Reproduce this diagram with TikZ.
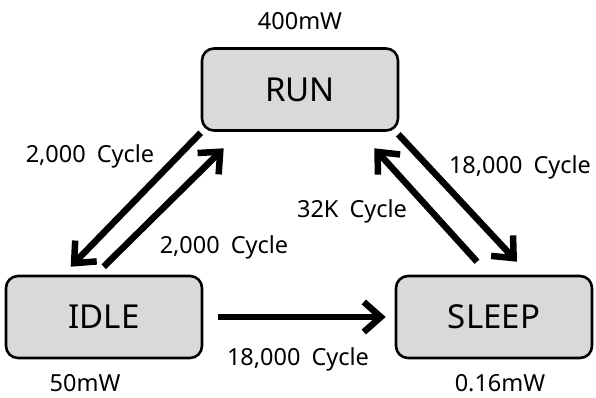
\documentclass[tikz,border=0pt]{standalone}
\usepackage{fontspec}
\setmainfont{Noto Sans}[WordSpace=1.8]
\usetikzlibrary{arrows.meta,calc}
\definecolor{boxgray}{HTML}{D9D9D9}
\tikzset{
  statebox/.style={draw=black, line width=2.6pt, fill=boxgray, rounded corners=12pt,
    minimum width=196pt, minimum height=82pt, inner sep=0pt, font=\fontsize{33}{36}\selectfont},
  lbl/.style={anchor=base, inner sep=0pt, font=\fontsize{23.5}{26}\selectfont},
  bigarrow/.style={line width=6.5pt, line cap=butt,
    -{Straight Barb[length=17pt, width=30pt, line cap=butt, line join=miter]}}
}
\begin{document}
\begin{tikzpicture}[x=1pt, y=-1pt]
\useasboundingbox (0,0) rectangle (596,398);
\node[statebox] (run) at (300,89.5) {RUN};
\node[statebox] (idle) at (104,317) {IDLE};
\node[statebox] (sleep) at (494,317) {SLEEP};

\node[lbl] (prun) at (300,30) {400mW};
\node[lbl] (pidle) at (85,391) {50mW};
\node[lbl] (psleep) at (500,391) {0.16mW};

\draw[bigarrow] ($(run.south west)+(0,1)$) -- ($(idle.north west)+(66,-8)$);
\draw[bigarrow] ($(idle.north west)+(99,-8)$) -- ($(run.south west)+(23,16.5)$);
\draw[bigarrow] ($(run.south east)+(-1,2.5)$) -- ($(sleep.north)+(23,-13)$);
\draw[bigarrow] ($(sleep.north)+(-17,-13)$) -- ($(run.south east)+(-25,16.5)$);
\draw[bigarrow] ($(idle.east)+(15,0)$) -- ($(sleep.west)+(-9,0)$);

\node[lbl] (l1) at (90,162) {2,000 Cycle};
\node[lbl] (l2) at (224,253) {2,000 Cycle};
\node[lbl] (l3) at (520,173) {18,000 Cycle};
\node[lbl] (l4) at (352,217) {32K Cycle};
\node[lbl] (l5) at (298,365) {18,000 Cycle};
\end{tikzpicture}
\end{document}
